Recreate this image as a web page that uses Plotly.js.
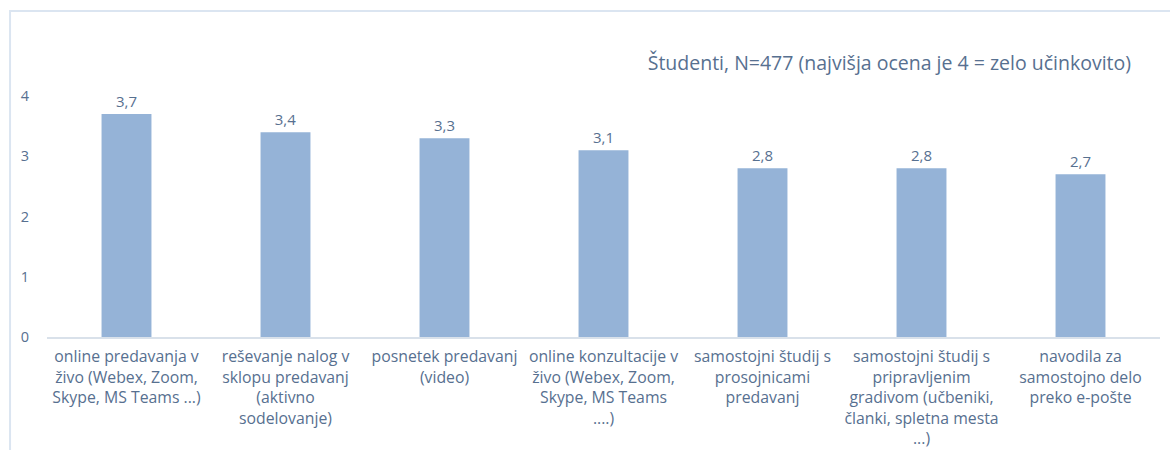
<!DOCTYPE html>
<html>
<head>
<meta charset="utf-8">
<script src="https://cdn.plot.ly/plotly-3.0.1.min.js"></script>
<style>
html,body{margin:0;padding:0;background:#fff;}
#chart{width:1170px;height:450px;}
</style>
</head>
<body>
<div id="chart"></div>
<script>
const categories = [
  "online predavanja v<br>živo (Webex, Zoom,<br>Skype, MS Teams ...)",
  "reševanje nalog v<br>sklopu predavanj<br>(aktivno<br>sodelovanje)",
  "posnetek predavanj<br>(video)",
  "online konzultacije v<br>živo (Webex, Zoom,<br>Skype, MS Teams<br>....)",
  "samostojni študij s<br>prosojnicami<br>predavanj",
  "samostojni študij s<br>pripravljenim<br>gradivom (učbeniki,<br>članki, spletna mesta<br>...)",
  "navodila za<br>samostojno delo<br>preko e-pošte"
];
const values = [3.7, 3.4, 3.3, 3.1, 2.8, 2.8, 2.7];
const titleText = "Študenti, N=477 (najvišja ocena je 4 = zelo učinkovito)";
const yTicks = [0, 1, 2, 3, 4];

const txtColor = "#577090";
const fontFam = "'Open Sans', sans-serif";

const trace = {
  type: "bar",
  x: categories,
  y: values,
  marker: {color: "#95b3d7"},
  texttemplate: "%{y:.1f}",
  textposition: "outside",
  cliponaxis: false,
  textfont: {family: fontFam, size: 15, color: txtColor},
  hoverinfo: "none"
};

const layout = {
  width: 1170,
  height: 450,
  margin: {l: 47, r: 10, t: 96, b: 113},
  paper_bgcolor: "#fff",
  plot_bgcolor: "#fff",
  separators: ", ",
  bargap: 0.686,
  showlegend: false,
  font: {family: fontFam, color: txtColor, size: 15},
  title: {
    text: titleText,
    font: {family: fontFam, size: 19.5, color: txtColor},
    x: 0.974, xanchor: "right", xref: "paper",
    y: 0.86, yanchor: "middle"
  },
  xaxis: {
    type: "category",
    showgrid: false,
    zeroline: false,
    showline: true,
    linecolor: "#d9e1ea",
    linewidth: 2,
    ticks: "outside",
    ticklen: 4,
    tickcolor: "rgba(0,0,0,0)",
    tickangle: 0,
    tickfont: {family: fontFam, size: 15.8, color: txtColor},
    automargin: false
  },
  yaxis: {
    range: [0, 4],
    tickvals: yTicks,
    ticktext: yTicks.map(String),
    showgrid: false,
    zeroline: false,
    showline: false,
    ticks: "outside",
    ticklen: 14,
    tickcolor: "rgba(0,0,0,0)",
    tickfont: {family: fontFam, size: 14.5, color: txtColor},
    automargin: false
  },
  shapes: [{
    type: "rect", xref: "paper", yref: "paper",
    x0: -0.0332, x1: 1.2, y0: -0.8, y1: 1.3527,
    line: {color: "#dbe5f1", width: 2},
    fillcolor: "rgba(0,0,0,0)",
    layer: "below"
  }]
};

Plotly.newPlot("chart", [trace], layout, {displayModeBar: false, staticPlot: true});
</script>
</body>
</html>
